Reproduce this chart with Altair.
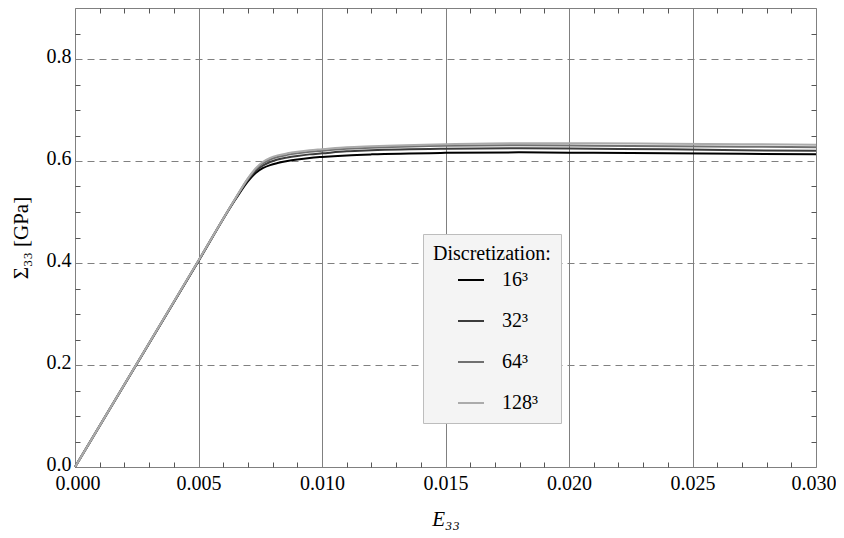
import altair as alt
import pandas as pd

# strain values (E33)
strain = [0.0, 0.005, 0.0065, 0.0070, 0.0073, 0.0076, 0.0079, 0.0082, 0.0086,
          0.009, 0.0095, 0.010, 0.011, 0.012, 0.015, 0.018, 0.021, 0.024, 0.027, 0.030]
# stress values (Sigma33, GPa) per discretization
s16 = [0.0, 0.404, 0.525, 0.560, 0.576, 0.586, 0.592, 0.596, 0.600,
       0.603, 0.606, 0.608, 0.611, 0.613, 0.616, 0.617, 0.616, 0.615, 0.614, 0.613]
s32 = [0.0, 0.404, 0.526, 0.563, 0.580, 0.591, 0.598, 0.603, 0.607,
       0.610, 0.613, 0.615, 0.619, 0.621, 0.624, 0.625, 0.624, 0.623, 0.621, 0.620]
s64 = [0.0, 0.405, 0.527, 0.565, 0.583, 0.595, 0.603, 0.608, 0.612,
       0.615, 0.618, 0.620, 0.624, 0.626, 0.630, 0.631, 0.630, 0.629, 0.628, 0.627]
s128 = [0.0, 0.405, 0.527, 0.566, 0.585, 0.598, 0.606, 0.611, 0.615,
        0.618, 0.621, 0.623, 0.627, 0.629, 0.633, 0.635, 0.635, 0.634, 0.633, 0.632]

labels = ["16³", "32³", "64³", "128³"]
colors = ["#000000", "#3c3c3c", "#707070", "#ababab"]

x_major = [0.0, 0.005, 0.010, 0.015, 0.020, 0.025, 0.030]
y_major = [0.0, 0.2, 0.4, 0.6, 0.8]
x_minor = [0.001, 0.002, 0.003, 0.004, 0.006, 0.007, 0.008, 0.009,
           0.011, 0.012, 0.013, 0.014, 0.016, 0.017, 0.018, 0.019,
           0.021, 0.022, 0.023, 0.024, 0.026, 0.027, 0.028, 0.029]
y_minor = [0.05, 0.1, 0.15, 0.25, 0.3, 0.35, 0.45, 0.5, 0.55,
           0.65, 0.7, 0.75, 0.85]

rows = []
for lab, ser in zip(labels, [s16, s32, s64, s128]):
    for e, s in zip(strain, ser):
        rows.append({"E": e, "S": s, "res": lab})
df = pd.DataFrame(rows)

FONT = "Liberation Serif"
xs = alt.Scale(domain=[0, 0.03], nice=False, zero=False)
ys = alt.Scale(domain=[0, 0.9], nice=False, zero=False)

base = alt.Chart(df)

lines = base.mark_line(strokeWidth=2, interpolate="monotone").encode(
    x=alt.X("E:Q", scale=xs, title="E₃₃",
            axis=alt.Axis(values=x_major, format=".3f", grid=True, gridColor="#808080",
                          gridWidth=1, ticks=False, domain=False, labelFont=FONT,
                          labelFontSize=20, labelColor="black", labelPadding=6,
                          labelFlush=True, labelFlushOffset=20,
                          titleFont=FONT, titleFontSize=21,
                          titleFontStyle="italic", titleFontWeight="normal",
                          titleColor="black", titlePadding=15)),
    y=alt.Y("S:Q", scale=ys, title="Σ₃₃ [GPa]",
            axis=alt.Axis(values=y_major, format=".1f", grid=True, gridColor="#808080",
                          gridDash=[7, 5], gridWidth=1, ticks=False, domain=False,
                          labelFont=FONT, labelFontSize=20, labelColor="black",
                          labelPadding=4, labelOffset=-3, labelFlush=False,
                          titleFont=FONT, titleFontSize=21, titleFontWeight="normal",
                          titleColor="black", titlePadding=15)),
    color=alt.Color("res:N", scale=alt.Scale(domain=labels, range=colors),
                    sort=labels,
                    legend=alt.Legend(title="Discretization:", orient="none",
                                      legendX=348, legendY=226,
                                      symbolType="stroke", symbolSize=676,
                                      symbolStrokeWidth=2, symbolOffset=24,
                                      labelOffset=17,
                                      titleFont=FONT, titleFontSize=20,
                                      titleFontWeight="normal", titleColor="black",
                                      titlePadding=2, labelFont=FONT,
                                      labelFontSize=20, labelColor="black",
                                      rowPadding=17, padding=10,
                                      fillColor="#f4f4f4", strokeColor="#bdbdbd")),
    order=alt.Order("res:N", sort="ascending"),
)

tick_style = dict(labels=False, domain=False, grid=False, ticks=True,
                  tickSize=5, tickColor="#555555", tickWidth=1, title=None)

minor_a = base.mark_point(opacity=0).encode(
    x=alt.X("E:Q", scale=xs, axis=alt.Axis(orient="bottom", values=x_minor,
                                           offset=-5, **tick_style)),
    y=alt.Y("S:Q", scale=ys, axis=alt.Axis(orient="left", values=y_minor,
                                           offset=-5, **tick_style)),
)
minor_b = base.mark_point(opacity=0).encode(
    x=alt.X("E:Q", scale=xs, axis=alt.Axis(orient="top", values=x_minor,
                                           offset=-5, **tick_style)),
    y=alt.Y("S:Q", scale=ys, axis=alt.Axis(orient="right", values=y_minor,
                                           offset=-5, **tick_style)),
)

chart = alt.layer(lines, minor_a, minor_b).resolve_axis(
    x="independent", y="independent"
).properties(
    width=741, height=459,
    autosize=alt.AutoSizeParams(type="none"),
    padding={"left": 67, "top": 0, "right": 20, "bottom": 63},
    background="white",
).configure_view(stroke="#808080", strokeWidth=1)

chart.save("out.html", embed_options={"renderer": "svg", "actions": False})
